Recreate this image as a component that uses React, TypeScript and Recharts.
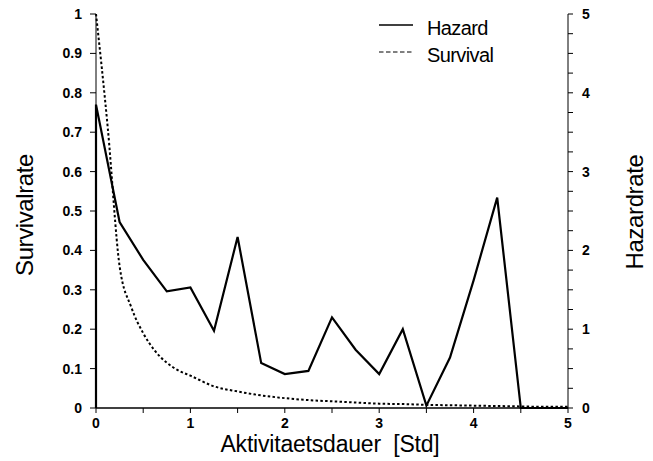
import React from 'react';
import { ComposedChart, Line, XAxis, YAxis } from 'recharts';

// Activity duration in hours (Std) at which each rate is reported
const hazardTimes = [0, 0, 0.25, 0.5, 0.75, 1, 1.25, 1.5, 1.75, 2, 2.25, 2.5, 2.75, 3, 3.25, 3.5, 3.75, 4, 4.25, 4.5, 4.75, 5];
const hazardRates = [0, 3.85, 2.36, 1.88, 1.48, 1.53, 0.98, 2.17, 0.57, 0.43, 0.47, 1.15, 0.74, 0.43, 1.0, 0.03, 0.64, 1.62, 2.67, 0, 0, 0];

const survivalTimes = [0, 0.125, 0.25, 0.375, 0.5, 0.625, 0.75, 0.875, 1, 1.25, 1.5, 1.75, 2, 2.25, 2.5, 2.75, 3, 3.25, 3.5, 3.75, 4, 4.25, 4.5, 4.75, 5];
const survivalRates = [1.0, 0.71, 0.36, 0.255, 0.19, 0.145, 0.115, 0.095, 0.082, 0.055, 0.042, 0.032, 0.025, 0.02, 0.017, 0.014, 0.011, 0.01, 0.008, 0.007, 0.006, 0.005, 0.004, 0.003, 0.003];

const xTicks = [0, 0.5, 1, 1.5, 2, 2.5, 3, 3.5, 4, 4.5, 5];
const survivalTicks = [0, 0.1, 0.2, 0.3, 0.4, 0.5, 0.6, 0.7, 0.8, 0.9, 1];
const hazardTicks = [0, 0.25, 0.5, 0.75, 1, 1.25, 1.5, 1.75, 2, 2.25, 2.5, 2.75, 3, 3.25, 3.5, 3.75, 4, 4.25, 4.5, 4.75, 5];

const seriesNames = ['Hazard', 'Survival'];

const hazardData = hazardTimes.map((t, i) => ({ t, hazard: hazardRates[i] }));
const survivalData = survivalTimes.map((t, i) => ({ t, survival: survivalRates[i] }));

const FONT = '"Liberation Sans", Arial, Helvetica, sans-serif';
const tickStyle = { fontSize: 14, fontWeight: 700, fill: '#000', fontFamily: FONT };

const integerOnly = (v: number) => (Number.isInteger(v) ? String(v) : '');
const survivalFmt = (v: number) => (v === 0 ? '0' : v === 1 ? '1' : v.toFixed(1));

const LeftTitle = (props: any) => {
  const { viewBox } = props;
  const cx = viewBox.x - 3;
  const cy = viewBox.y + viewBox.height / 2 + 4;
  return (
    <text x={cx} y={cy} transform={`rotate(-90, ${cx}, ${cy})`} textAnchor="middle"
      style={{ fontSize: 24, fontFamily: FONT, letterSpacing: -0.4 }} fill="#000">
      Survivalrate
    </text>
  );
};

const RightTitle = (props: any) => {
  const { viewBox } = props;
  const cx = viewBox.x + 75;
  const cy = viewBox.y + viewBox.height / 2 + 1;
  return (
    <text x={cx} y={cy} transform={`rotate(-90, ${cx}, ${cy})`} textAnchor="middle"
      style={{ fontSize: 24, fontFamily: FONT, letterSpacing: -0.4 }} fill="#000">
      Hazardrate
    </text>
  );
};

const BottomTitle = (props: any) => {
  const { viewBox } = props;
  const cx = viewBox.x + viewBox.width / 2 - 2;
  const cy = viewBox.y + 44;
  return (
    <text x={cx} y={cy} textAnchor="middle" xmlSpace="preserve"
      style={{ fontSize: 23, fontFamily: FONT, letterSpacing: -0.2, whiteSpace: 'pre' }} fill="#000">
      {'Aktivitaetsdauer  [Std]'}
    </text>
  );
};

// Key for the two series, placed in the upper right of the plot area
const LegendBox = () => (
  <svg width={130} height={55} style={{ position: 'absolute', left: 375, top: 14, overflow: 'visible' }}>
    <line x1={4} y1={11} x2={38} y2={11} stroke="#000" strokeWidth={1.5} />
    <text x={52} y={21} style={{ fontSize: 20, fontFamily: FONT, letterSpacing: -0.6 }} fill="#000">{seriesNames[0]}</text>
    <line x1={4} y1={38} x2={38} y2={38} stroke="#000" strokeWidth={1} strokeDasharray="4.5 2.5" />
    <text x={52} y={48} style={{ fontSize: 20, fontFamily: FONT, letterSpacing: -0.6 }} fill="#000">{seriesNames[1]}</text>
  </svg>
);

export default function App() {
  return (
    <div style={{ position: 'absolute', left: 0, top: 0, width: 653, height: 461, background: '#fff' }}>
      <ComposedChart width={653} height={461} margin={{ top: 14, right: 25, bottom: 23, left: 36 }}>
        <XAxis
          dataKey="t"
          type="number"
          domain={[0, 5]}
          ticks={xTicks}
          tickFormatter={integerOnly}
          allowDuplicatedCategory={false}
          height={30}
          tickSize={5}
          tickMargin={5}
          stroke="#000"
          tick={tickStyle}
          tickLine={{ stroke: '#000' }}
          axisLine={{ stroke: '#000', strokeWidth: 1.3 }}
          label={<BottomTitle />}
        />
        <YAxis
          yAxisId="left"
          orientation="left"
          domain={[0, 1]}
          ticks={survivalTicks}
          tickFormatter={survivalFmt}
          width={60}
          tickSize={6}
          tickMargin={8}
          tick={tickStyle}
          tickLine={{ stroke: '#000' }}
          axisLine={{ stroke: '#000', strokeWidth: 1 }}
          label={<LeftTitle />}
        />
        <YAxis
          yAxisId="right"
          orientation="right"
          domain={[0, 5]}
          ticks={hazardTicks}
          tickFormatter={integerOnly}
          width={60}
          tickSize={5}
          tickMargin={9}
          tick={tickStyle}
          tickLine={{ stroke: '#000' }}
          axisLine={{ stroke: '#000', strokeWidth: 1 }}
          label={<RightTitle />}
        />
        <Line
          yAxisId="left"
          data={survivalData}
          dataKey="survival"
          name={seriesNames[1]}
          type="monotone"
          stroke="#000"
          strokeWidth={2}
          strokeDasharray="2.5 2.3"
          dot={false}
          activeDot={false}
          isAnimationActive={false}
        />
        <Line
          yAxisId="right"
          data={hazardData}
          dataKey="hazard"
          name={seriesNames[0]}
          type="linear"
          stroke="#000"
          strokeWidth={2.2}
          dot={false}
          activeDot={false}
          isAnimationActive={false}
        />
      </ComposedChart>
      <LegendBox />
    </div>
  );
}
